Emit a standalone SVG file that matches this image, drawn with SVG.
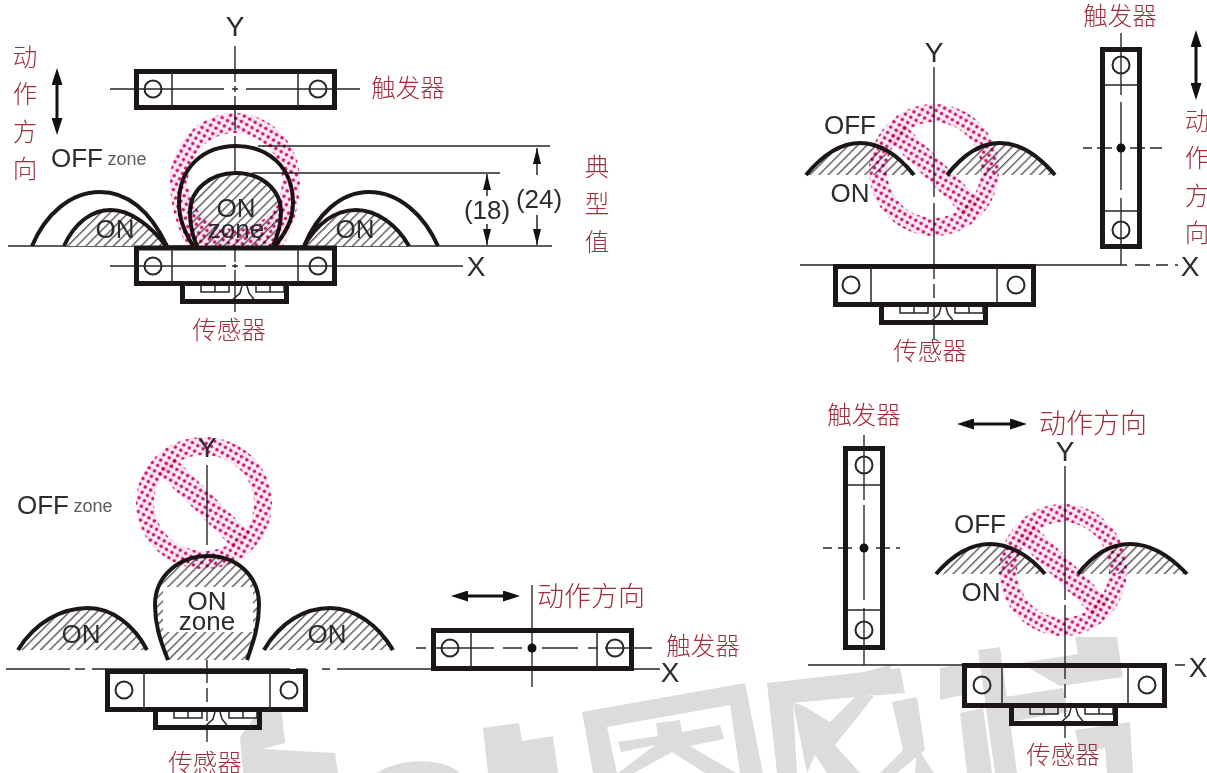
<svg xmlns="http://www.w3.org/2000/svg" width="1207" height="773" viewBox="0 0 1207 773">
<style>
.cn{font-family:"Noto Sans CJK SC","Liberation Sans",sans-serif;fill:#a02f3e;font-size:24.500px;font-weight:300;text-anchor:middle}
.cn2{font-size:27px}
.lat{font-family:"Liberation Sans",Arial,sans-serif;fill:#2b2b30;text-anchor:middle;font-size:26px}
.big{font-size:28px}
.sm{font-size:18px;fill:#5c5c60}
.box{fill:none;stroke:#1c1716;stroke-width:5}
.thin{fill:none;stroke:#2a2626;stroke-width:1.500}
.hole{fill:none;stroke:#2a2626;stroke-width:2}
.ax{fill:none;stroke:#2a2626;stroke-width:1.400}
.dash{fill:none;stroke:#2a2626;stroke-width:1.400;stroke-dasharray:14 5}
.arc{fill:none;stroke:#1c1716;stroke-width:4}
.wm{fill:#dcdcdc;fill-rule:evenodd}
.pink{fill:url(#dots);mix-blend-mode:multiply}
.ar{stroke:#111;stroke-width:3;fill:none}
.dim{stroke:#2a2626;stroke-width:1.500;fill:none}
</style>
<defs>
<pattern id="hatch" width="6.500" height="6.500" patternUnits="userSpaceOnUse" patternTransform="rotate(45)"><rect width="6.500" height="6.500" fill="#fff"/><rect width="1.400" height="6.500" fill="#5a5656"/></pattern>
<pattern id="dots" width="6.200" height="6.200" patternUnits="userSpaceOnUse" patternTransform="rotate(30)"><rect width="6.200" height="6.200" fill="#f7d3e4" fill-opacity=".5"/><circle cx="3.100" cy="3.100" r="1.750" fill="#cf1676"/></pattern>
<marker id="bh" markerWidth="17" markerHeight="11" refX="1" refY="5.500" orient="auto-start-reverse" markerUnits="userSpaceOnUse"><path d="M0 0L17 5.500L0 11z" fill="#111"/></marker>
<marker id="sh" markerWidth="16" markerHeight="8" refX="16" refY="4" orient="auto" markerUnits="userSpaceOnUse"><path d="M0 0L16 4L0 8z" fill="#111"/></marker>
<g id="head"><path class="box" d="M2.500 0V15.500H106.500V0"/><path class="thin" d="M21 0V6H49V0M35 0V6M76 0V6H104M104 0V6M90 0V6M48 0M62 0L60 7L52.500 14M67 0L69 7L74.500 14"/></g>
<path id="slash" d="M-30 -46L-46 -30L30 46L46 30Z"/>
</defs>

<g id="watermark">
<path class="wm" d="M258 712L281 707L285 743L262 749L335 753L338 773H243L240 737Z"/>
<path class="wm" d="M377 773C395 760 440 755 460 773Z"/>
<path class="wm" d="M483 728L519 723L522 741L553 736L558 773H488Z"/>
<path class="wm" d="M582 712L745 683L763 773H593ZM607 727L730 705L740 773H617Z"/>
<path class="wm" d="M618 742L658 736L656 723L680 720L682 732L720 725L724 739L690 746L736 773H705L672 752L634 773H618L655 745L621 752Z"/>
<path class="wm" d="M767 683L900 668L905 693L858 697L875 695L835 745L860 773H827L815 755L807 773H797L793 703L802 705L830 722L855 697L793 703L807 773H777Z"/>
<path class="wm" d="M860 673L890 665L897 686L863 693Z"/>
<path class="wm" d="M940 668L963 664L963 695L940 700Z"/>
<path class="wm" d="M892 702L917 697L925 750L897 773H880L903 750Z"/>
<path class="wm" d="M917 747L934 773H915Z"/>
<path class="wm" d="M960 713L983 708L992 773H967Z"/>
<path class="wm" d="M978 650L1000 647L1017 773H995Z"/>
<path class="wm" d="M985 700L1063 688L1068 712L990 725Z"/>
<path class="wm" d="M1020 663L1078 654L1075 637L1117 637L1123 677L1060 686Z"/>
<path class="wm" d="M1075 730L1130 722L1133 773H1107L1105 748L1080 752Z"/>
</g>

<g id="connectors">
<g id="axes-1">
<path class="ax" d="M235 46V82M235 86V92M235 96V130M235 136V200M235 204V240M235 248V262M235 264V268M235 270V312"/>
<path class="ax" d="M110 89H224M232 89H238M246 89H360"/>
<path class="ax" d="M8 246H552"/>
<path class="ax" d="M110 266H226M232 266H238M245 266H463"/>
<path class="ax" d="M258 146H550M252 173H500"/>
<path class="dim" d="M487 196V174" marker-end="url(#sh)"/><path class="dim" d="M487 224V245" marker-end="url(#sh)"/>
<path class="dim" d="M537 175V148" marker-end="url(#sh)"/><path class="dim" d="M537 215V245" marker-end="url(#sh)"/>
<path class="ar" d="M57 84V119" marker-start="url(#bh)" marker-end="url(#bh)"/>
</g>
<g id="axes-2">
<path class="ax" d="M934 67V197M934 203V265"/><path class="dash" d="M934 265V322"/><path class="ax" d="M934 322V340"/>
<path class="ax" d="M800 265H1127M1135 265H1150M1156 265H1168M1175 265H1178"/>
<path class="ax" d="M1121 33V95M1121 102V190M1121 198V265"/>
<path class="ax" d="M1083 148H1092M1097 148H1112M1130 148H1145M1150 148H1162"/>
<path class="ar" d="M1196 46V84" marker-start="url(#bh)" marker-end="url(#bh)"/>
</g>
<g id="axes-3">
<path class="ax" d="M207 465V545M207 553V669"/><path class="dash" d="M207 669V735"/><path class="ax" d="M207 735V742"/>
<path class="ax" d="M6 669H70M75 669H85M92 669H290M296 669H306M322 669H330M337 669H660"/>
<path class="ax" d="M416 648H426M433 648H494M503 648H522M542 648H578M588 648H598M605 648H652"/>
<path class="ax" d="M532 585V687"/>
<path class="ar" d="M467 596H504" marker-start="url(#bh)" marker-end="url(#bh)"/>
</g>
<g id="axes-4">
<path class="ax" d="M1065 466V600M1065 605V665"/><path class="dash" d="M1065 665V725"/><path class="ax" d="M1065 725V738"/>
<path class="ax" d="M808 665H980M986 665H1000M1006 665H1167M1175 665H1185"/>
<path class="ax" d="M864 435V500M864 505V600M864 608V665"/>
<path class="ax" d="M823 548H832M838 548H852M876 548H890M896 548H900"/>
<path class="ar" d="M973 424H1011" marker-start="url(#bh)" marker-end="url(#bh)"/>
</g>
</g>

<g id="diagram-1">
<path d="M64 246C75 222 92 210 111 210C130 210 150 225 166 246Z" fill="url(#hatch)"/>
<path d="M197 246C192 235 190 225 190 212C190 190 210 173 236 173C262 173 281 190 281 212C281 225 278 235 273 246Z" fill="url(#hatch)"/>
<path d="M304 246C317 224 335 210 356 210C377 210 397 225 409 246Z" fill="url(#hatch)"/>
<path class="arc" d="M64 246C75 222 92 210 111 210C130 210 150 225 166 246M32 246C45 215 70 192 100 192C130 192 152 215 167 246"/>
<path class="arc" d="M304 246C317 224 335 210 356 210C377 210 397 225 409 246M304 246C317 215 340 192 369 192C399 192 424 215 438 246"/>
<path class="arc" d="M193 246C185 232 179 220 179 203C179 166 205 146 236 146C267 146 293 166 293 203C293 220 286 232 275 246"/>
<path class="arc" d="M197 246C192 235 190 225 190 212C190 190 210 173 236 173C262 173 281 190 281 212C281 225 278 235 273 246"/>
<path class="pink" fill-rule="evenodd" d="M170 181A65 68 0 0 1 300 181C300 205 293 228 283 246H187C177 228 170 205 170 181ZM188 181A47 48 0 1 0 282 181A47 48 0 1 0 188 181Z"/>
<text class="lat" x="115" y="238">ON</text><text class="lat" x="236" y="217">ON</text><text class="lat" x="236" y="238">zone</text><text class="lat" x="355" y="238">ON</text>
<text class="lat big" x="235" y="36">Y</text>
<text class="lat big" x="476" y="276">X</text>
<text class="lat" x="77" y="167">OFF</text><text class="lat sm" x="127" y="165">zone</text>
<text class="lat" x="487" y="219">(18)</text><text class="lat" x="539" y="208">(24)</text>
</g>
<g id="trigger-1"><rect x="136.500" y="71.500" width="198" height="36" class="box"/><path class="thin" d="M172 72V108M298 72V108"/><circle cx="153" cy="89" r="8.500" class="hole"/><circle cx="318" cy="89" r="8.500" class="hole"/></g>
<g id="sensor-1"><rect x="136.500" y="248" width="198" height="35.500" class="box"/><path class="thin" d="M172 248V284M298 248V284"/><circle cx="153" cy="266" r="8.500" class="hole"/><circle cx="318" cy="266" r="8.500" class="hole"/><use href="#head" x="180" y="286"/></g>
<text class="cn" x="408" y="97">触发器</text>
<text class="cn" x="229" y="339">传感器</text>
<text class="cn"><tspan x="25" y="66">动</tspan><tspan x="25" y="103">作</tspan><tspan x="25" y="141">方</tspan><tspan x="25" y="178">向</tspan></text>
<text class="cn"><tspan x="597" y="176">典</tspan><tspan x="597" y="213">型</tspan><tspan x="597" y="251">值</tspan></text>

<g id="diagram-2">
<path d="M806 175C825 152 842 143 860 143C880 143 898 155 914 175Z" fill="url(#hatch)"/>
<path d="M947 175C965 152 982 143 1000 143C1020 143 1038 155 1055 175Z" fill="url(#hatch)"/>
<path class="arc" d="M806 175C825 152 842 143 860 143C880 143 898 155 914 175M947 175C965 152 982 143 1000 143C1020 143 1038 155 1055 175"/>
<g transform="translate(934,170)"><path class="pink" fill-rule="evenodd" d="M-65 0A65 66 0 1 1 65 0A65 66 0 1 1 -65 0ZM-47 0A47 48 0 1 0 47 0A47 48 0 1 0 -47 0Z"/><use href="#slash" class="pink"/></g>
<text class="lat" x="850" y="134">OFF</text><text class="lat" x="850" y="202">ON</text>
<text class="lat big" x="934" y="62">Y</text><text class="lat big" x="1190" y="276">X</text>
</g>
<g id="sensor-2"><rect x="835.500" y="266.500" width="198" height="38" class="box"/><path class="thin" d="M871 267V305M997 267V305"/><circle cx="851" cy="285" r="8.500" class="hole"/><circle cx="1016" cy="285" r="8.500" class="hole"/><use href="#head" x="879" y="307"/></g>
<g id="trigger-2"><rect x="1102.500" y="49.500" width="37" height="197" class="box"/><path class="thin" d="M1103 85H1140M1103 211H1140"/><circle cx="1121" cy="65" r="8.500" class="hole"/><circle cx="1121" cy="230" r="8.500" class="hole"/><circle cx="1121" cy="148" r="4.500" fill="#111"/></g>
<text class="cn" x="1120" y="25">触发器</text>
<text class="cn" x="930" y="360">传感器</text>
<text class="cn"><tspan x="1197" y="130">动</tspan><tspan x="1197" y="167">作</tspan><tspan x="1197" y="205">方</tspan><tspan x="1197" y="242">向</tspan></text>

<g id="diagram-3">
<path d="M18 650C35 622 62 608 88 608C112 608 134 625 147 650Z" fill="url(#hatch)"/>
<path d="M264 650C280 622 305 608 330 608C355 608 378 625 393 650Z" fill="url(#hatch)"/>
<path class="arc" d="M18 650C35 622 62 608 88 608C112 608 134 625 147 650M264 650C280 622 305 608 330 608C355 608 378 625 393 650"/>
<path d="M168 660C160 640 155 625 155 605C155 575 180 556 208 556C236 556 259 575 259 605C259 625 254 640 247 660Z" fill="url(#hatch)"/>
<rect x="163" y="587" width="90" height="45" fill="#fff"/>
<path class="arc" d="M168 660C160 640 155 625 155 605C155 575 180 556 208 556C236 556 259 575 259 605C259 625 254 640 247 660"/>
<g transform="translate(204,503)"><path class="pink" fill-rule="evenodd" d="M-68 0A68 66 0 1 1 68 0A68 66 0 1 1 -68 0ZM-50 0A50 48 0 1 0 50 0A50 48 0 1 0 -50 0Z"/><use href="#slash" class="pink"/></g>
<text class="lat" x="81" y="643">ON</text><text class="lat" x="327" y="643">ON</text><text class="lat" x="207" y="610">ON</text><text class="lat" x="207" y="630">zone</text>
<text class="lat big" x="207" y="457">Y</text><text class="lat big" x="670" y="682">X</text>
<text class="lat" x="43" y="514">OFF</text><text class="lat sm" x="93" y="512">zone</text>
</g>
<g id="sensor-3"><rect x="107.500" y="671.500" width="198" height="38" class="box"/><path class="thin" d="M144 672V710M270 672V710"/><circle cx="124" cy="690" r="8.500" class="hole"/><circle cx="289" cy="690" r="8.500" class="hole"/><use href="#head" x="153" y="712"/></g>
<g id="trigger-3"><rect x="433.500" y="630.500" width="198" height="38" class="box"/><path class="thin" d="M471 631V669M597 631V669"/><circle cx="450" cy="648" r="8.500" class="hole"/><circle cx="615" cy="648" r="8.500" class="hole"/><circle cx="532" cy="648" r="4.500" fill="#111"/></g>
<text class="cn cn2" x="591" y="606">动作方向</text>
<text class="cn" x="703" y="655">触发器</text>
<text class="cn" x="205" y="772">传感器</text>

<g id="diagram-4">
<path d="M936 574C955 552 972 544 990 544C1010 544 1030 556 1045 574Z" fill="url(#hatch)"/>
<path d="M1078 574C1095 552 1112 544 1130 544C1150 544 1170 556 1187 574Z" fill="url(#hatch)"/>
<path class="arc" d="M936 574C955 552 972 544 990 544C1010 544 1030 556 1045 574M1078 574C1095 552 1112 544 1130 544C1150 544 1170 556 1187 574"/>
<g transform="translate(1063,570)"><path class="pink" fill-rule="evenodd" d="M-64 0A64 66 0 1 1 64 0A64 66 0 1 1 -64 0ZM-46 0A46 48 0 1 0 46 0A46 48 0 1 0 -46 0Z"/><use href="#slash" class="pink"/></g>
<text class="lat" x="980" y="533">OFF</text><text class="lat" x="981" y="601">ON</text>
<text class="lat big" x="1065" y="461">Y</text><text class="lat big" x="1198" y="677">X</text>
</g>
<g id="sensor-4"><rect x="964.500" y="665.500" width="200" height="40" class="box"/><path class="thin" d="M1002 666V706M1128 666V706"/><circle cx="982" cy="685" r="8.500" class="hole"/><circle cx="1147" cy="685" r="8.500" class="hole"/><use href="#head" x="1009" y="708"/></g>
<g id="trigger-4"><rect x="845.500" y="448.500" width="37" height="199" class="box"/><path class="thin" d="M846 485H883M846 610H883"/><circle cx="864" cy="465" r="8.500" class="hole"/><circle cx="864" cy="630" r="8.500" class="hole"/><circle cx="864" cy="548" r="4.500" fill="#111"/></g>
<text class="cn" x="864" y="424">触发器</text>
<text class="cn cn2" x="1093" y="433">动作方向</text>
<text class="cn" x="1063" y="764">传感器</text>
</svg>
